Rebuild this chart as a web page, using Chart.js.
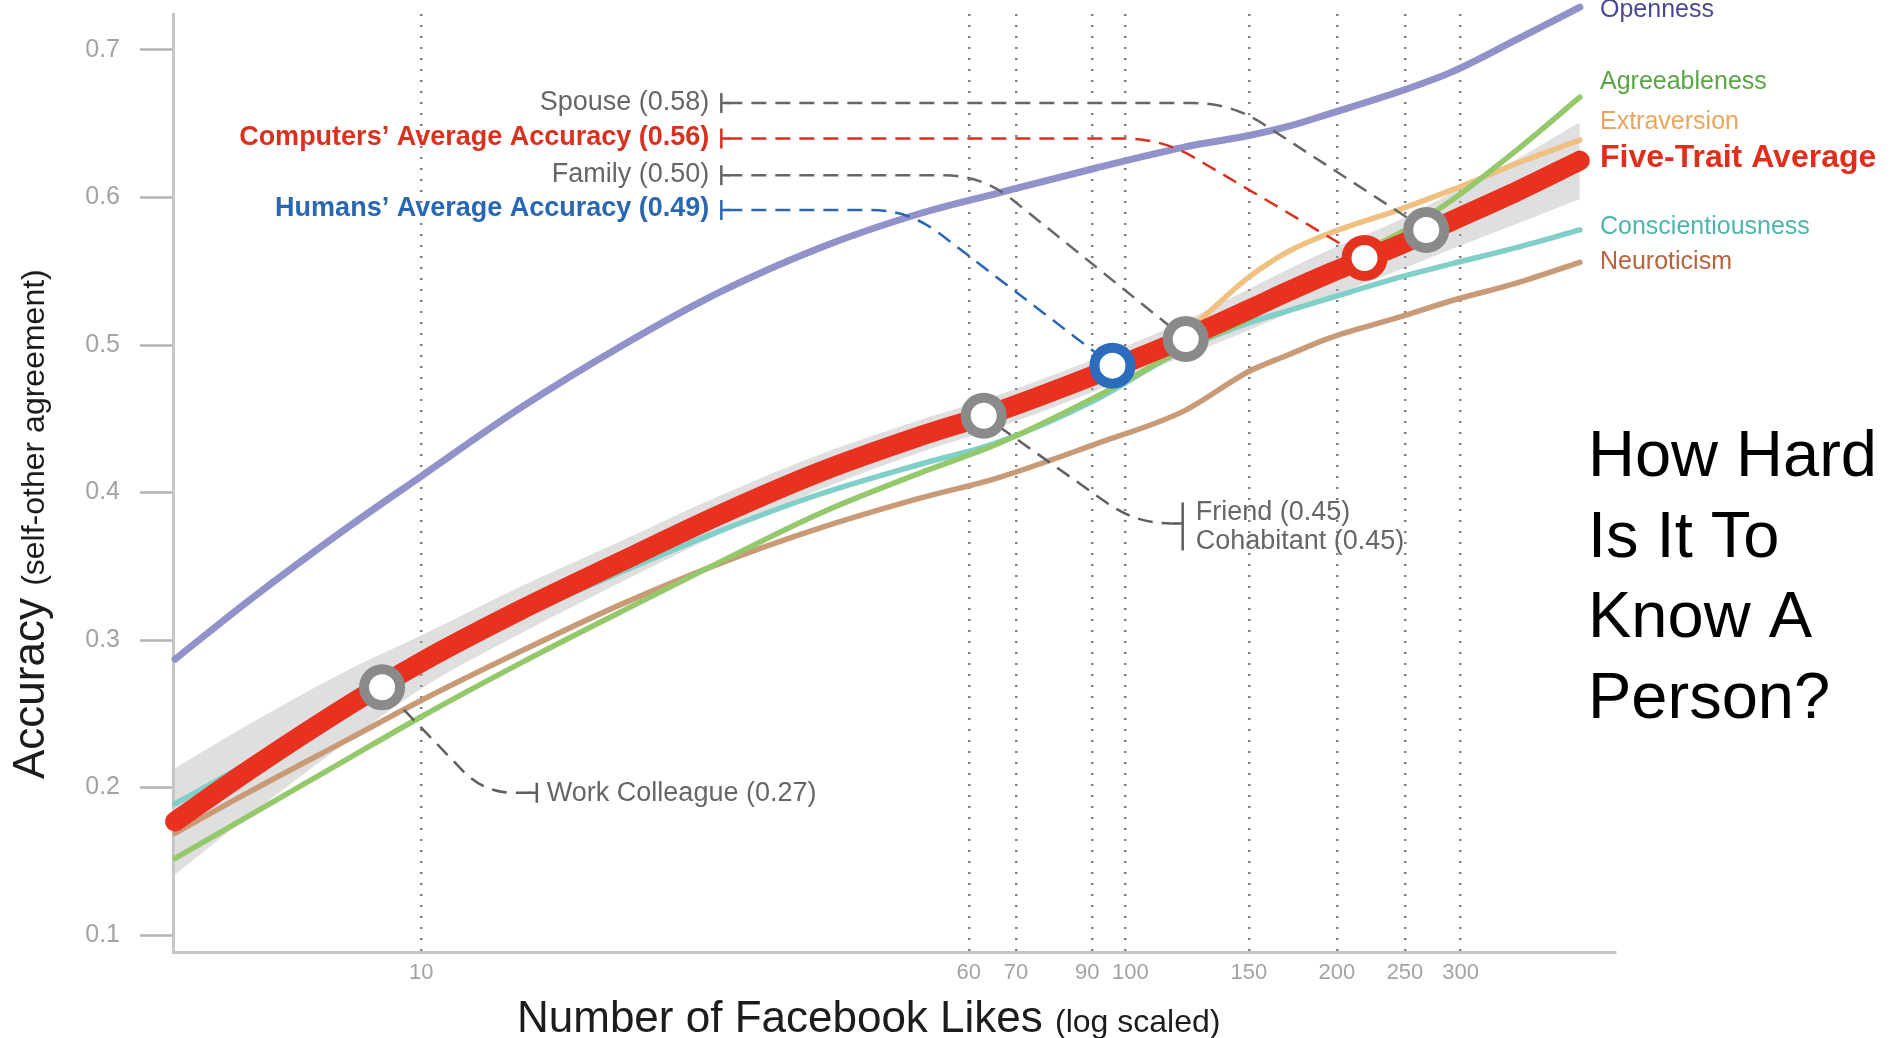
<!DOCTYPE html>
<html>
<head>
<meta charset="utf-8">
<title>How Hard Is It To Know A Person?</title>
<script src="https://cdn.jsdelivr.net/npm/chart.js@4.4.1/dist/chart.umd.min.js"></script>
<style>
  html, body { margin: 0; padding: 0; background: #fff; }
  #wrap { position: relative; width: 1893px; height: 1038px; }
</style>
</head>
<body>
<div id="wrap"><canvas id="chart"></canvas></div>
<script>
// number of Facebook likes (x, log scaled)
const likes = [4.47, 5.7, 7.9, 10, 13.8, 19.2, 26.6, 36.9, 51, 66, 91, 121, 150, 170, 196, 246, 291, 360, 443];

// accuracy per trait
const openness          = [0.287, 0.327, 0.377, 0.411, 0.457, 0.499, 0.536, 0.566, 0.589, 0.603, 0.620, 0.634, 0.642, 0.648, 0.657, 0.672, 0.685, 0.707, 0.729];
const agreeableness     = [0.152, 0.181, 0.220, 0.248, 0.284, 0.319, 0.353, 0.386, 0.413, 0.433, 0.465, 0.497, 0.518, 0.535, 0.553, 0.576, 0.598, 0.632, 0.668];
const extraversion      = [0.175, 0.208, 0.251, 0.281, 0.315, 0.348, 0.381, 0.410, 0.434, 0.450, 0.478, 0.508, 0.546, 0.563, 0.576, 0.592, 0.605, 0.623, 0.639];
const conscientiousness = [0.189, 0.217, 0.256, 0.284, 0.316, 0.346, 0.374, 0.399, 0.419, 0.434, 0.463, 0.497, 0.515, 0.523, 0.532, 0.546, 0.555, 0.566, 0.578];
const neuroticism       = [0.169, 0.197, 0.233, 0.259, 0.292, 0.324, 0.352, 0.376, 0.396, 0.410, 0.433, 0.455, 0.482, 0.493, 0.505, 0.519, 0.530, 0.542, 0.556];
const fiveTrait         = [0.177, 0.212, 0.256, 0.285, 0.320, 0.353, 0.385, 0.414, 0.438, 0.455, 0.480, 0.504, 0.524, 0.536, 0.549, 0.568, 0.584, 0.604, 0.625];
const bandUpper         = [0.213, 0.243, 0.280, 0.303, 0.336, 0.367, 0.398, 0.426, 0.449, 0.466, 0.491, 0.516, 0.538, 0.551, 0.565, 0.585, 0.603, 0.626, 0.651];
const bandLower         = [0.141, 0.181, 0.232, 0.267, 0.304, 0.339, 0.372, 0.402, 0.427, 0.444, 0.469, 0.492, 0.510, 0.521, 0.533, 0.551, 0.565, 0.582, 0.599];

// human judges and the computer, marked on the five-trait line
const judgeLikes    = [8.8, 63, 96, 122, 219, 268];
const judgeAccuracy = [0.268, 0.452, 0.486, 0.504, 0.559, 0.578];
const judgeColors   = ['#8a8a8a', '#8a8a8a', '#2b6cbd', '#8a8a8a', '#e4321f', '#8a8a8a'];

// labels at top left, with dashed leaders to the judge circles
const topLabels   = ['Spouse (0.58)', 'Computers\u2019 Average Accuracy (0.56)', 'Family (0.50)', 'Humans\u2019 Average Accuracy (0.49)'];
const topLabelY   = [0.664, 0.640, 0.615, 0.5915];
const topElbow    = [141.5, 112.9, 62.7, 49.3];
const topJudge    = [5, 4, 3, 2];
const topColors   = ['#666666', '#d9301f', '#666666', '#2a67b3'];
const topBold     = [false, true, false, true];
const topBracket  = 26.7;

// trait names at the right end
const traitLabels = ['Openness', 'Agreeableness', 'Extraversion', 'Five-Trait Average', 'Conscientiousness', 'Neuroticism'];
const traitLabelY = [0.727, 0.678, 0.651, 0.627, 0.580, 0.556];
const traitLabelColors = ['#4a4a8e', '#5aa545', '#eaa65c', '#e02e1c', '#4fb4ab', '#b8633e'];

const xTicks = [10, 60, 70, 90, 100, 150, 200, 250, 300];
const yTicks = [0.1, 0.2, 0.3, 0.4, 0.5, 0.6, 0.7];
const titleLines = ['How Hard', 'Is It To', 'Know A', 'Person?'];

const FONT = '"Liberation Sans", Arial, Helvetica, sans-serif';

function pts(ys) {
    return likes.map((x, i) => ({ x: x, y: ys[i] }));
}

function trait(label, ys, color, width, order) {
    return {
        label: label,
        data: pts(ys),
        borderColor: color,
        borderWidth: width,
        borderCapStyle: 'round',
        pointRadius: 0,
        cubicInterpolationMode: 'monotone',
        fill: false,
        clip: false,
        order: order
    };
}

// dashed elbow line: bracket -> elbow -> circle
function leader(ctx, b, corner, end, r) {
    const dx = end.x - corner.x, dy = end.y - corner.y;
    const len = Math.hypot(dx, dy);
    const hx = Math.sign(corner.x - b.x);
    ctx.beginPath();
    ctx.moveTo(b.x, b.y);
    ctx.lineTo(corner.x - hx * r, corner.y);
    ctx.quadraticCurveTo(corner.x, corner.y, corner.x + dx / len * r, corner.y + dy / len * r);
    ctx.lineTo(end.x, end.y);
    ctx.stroke();
}

const JUDGE_INDEX = 8;

const annotate = {
    id: 'annotate',
    beforeDatasetDraw(chart, args) {
        if (args.index !== JUDGE_INDEX) return;
        const ctx = chart.ctx;
        const xs = chart.scales.x, ys = chart.scales.y;
        const judgePx = i => ({ x: xs.getPixelForValue(judgeLikes[i]), y: ys.getPixelForValue(judgeAccuracy[i]) });
        ctx.save();
        ctx.lineWidth = 2.5;

        // top labels
        topLabels.forEach((t, i) => {
            const y = ys.getPixelForValue(topLabelY[i]);
            const bx = xs.getPixelForValue(topBracket);
            ctx.strokeStyle = topColors[i];
            ctx.setLineDash([15, 9]);
            leader(ctx, { x: bx + 6, y: y }, { x: xs.getPixelForValue(topElbow[i]), y: y }, judgePx(topJudge[i]), 38);
            ctx.setLineDash([]);
            ctx.beginPath();
            ctx.moveTo(bx, y - 10); ctx.lineTo(bx, y + 10);
            ctx.moveTo(bx, y); ctx.lineTo(bx + 8, y);
            ctx.stroke();
        });

        // work colleague
        ctx.strokeStyle = '#5f5f5f';
        let y = ys.getPixelForValue(0.1964);
        let bx = xs.getPixelForValue(14.6);
        ctx.setLineDash([15, 9]);
        leader(ctx, { x: bx - 6, y: y }, { x: xs.getPixelForValue(12.29), y: y }, judgePx(0), 30);
        ctx.setLineDash([]);
        ctx.beginPath();
        ctx.moveTo(bx, y - 10); ctx.lineTo(bx, y + 10);
        ctx.moveTo(bx, y); ctx.lineTo(bx - 8, y);
        ctx.stroke();

        // friend / cohabitant
        y = ys.getPixelForValue(0.379);
        bx = xs.getPixelForValue(120.8);
        ctx.setLineDash([15, 9]);
        leader(ctx, { x: bx - 6, y: y }, { x: xs.getPixelForValue(103.7), y: y }, judgePx(1), 35);
        ctx.setLineDash([]);
        ctx.beginPath();
        ctx.moveTo(bx, y - 21); ctx.lineTo(bx, y + 27);
        ctx.moveTo(bx, y); ctx.lineTo(bx - 8, y);
        ctx.stroke();
        ctx.restore();
    },
    afterDraw(chart) {
        const ctx = chart.ctx;
        const xs = chart.scales.x, ys = chart.scales.y;
        const area = chart.chartArea;
        ctx.save();
        ctx.textBaseline = 'middle';

        // top-left labels
        ctx.textAlign = 'right';
        const bx = xs.getPixelForValue(topBracket);
        topLabels.forEach((t, i) => {
            ctx.font = (topBold[i] ? 'bold ' : '') + '27px ' + FONT;
            ctx.fillStyle = topColors[i];
            ctx.fillText(t, bx - 12, ys.getPixelForValue(topLabelY[i]) - 1);
        });

        ctx.textAlign = 'left';
        ctx.font = '27px ' + FONT;
        ctx.fillStyle = '#666666';
        ctx.fillText('Work Colleague (0.27)', xs.getPixelForValue(14.6) + 10, ys.getPixelForValue(0.1964) + 1);
        const fx = xs.getPixelForValue(120.8) + 13;
        const fy = ys.getPixelForValue(0.379);
        ctx.fillText('Friend (0.45)', fx, fy - 11);
        ctx.fillText('Cohabitant (0.45)', fx, fy + 18);

        // trait names
        traitLabels.forEach((t, i) => {
            ctx.font = (i === 3 ? 'bold 32px ' : '25px ') + FONT;
            ctx.fillStyle = traitLabelColors[i];
            ctx.fillText(t, area.right - 15, ys.getPixelForValue(traitLabelY[i]));
        });

        // title
        ctx.textBaseline = 'alphabetic';
        ctx.font = '65px ' + FONT;
        ctx.fillStyle = '#000';
        titleLines.forEach((t, i) => ctx.fillText(t, 1588, 476 + i * 80.5));

        // x axis title
        ctx.fillStyle = '#1c1c1c';
        const tx = area.left + 344, ty = area.bottom + 80;
        ctx.font = '44px ' + FONT;
        ctx.fillText('Number of Facebook Likes', tx, ty);
        const w1 = ctx.measureText('Number of Facebook Likes ').width;
        ctx.font = '32px ' + FONT;
        ctx.fillText('(log scaled)', tx + w1, ty);

        // y axis title
        ctx.translate(44, area.bottom - 173);
        ctx.rotate(-Math.PI / 2);
        ctx.font = '44px ' + FONT;
        ctx.fillText('Accuracy', 0, 0);
        const w2 = ctx.measureText('Accuracy ').width;
        ctx.font = '32px ' + FONT;
        ctx.fillText('(self-other agreement)', w2, 0);
        ctx.restore();
    }
};

const datasets = [
    {
        label: 'band upper',
        data: pts(bandUpper),
        borderWidth: 0,
        pointRadius: 0,
        cubicInterpolationMode: 'monotone',
        backgroundColor: 'rgba(170,170,170,0.38)',
        fill: '+1',
        clip: false,
        order: 20
    },
    {
        label: 'band lower',
        data: pts(bandLower),
        borderWidth: 0,
        pointRadius: 0,
        cubicInterpolationMode: 'monotone',
        fill: false,
        clip: false,
        order: 19
    },
    trait('Neuroticism', neuroticism, '#c99a76', 5.5, 10),
    trait('Conscientiousness', conscientiousness, '#80cfc9', 5.5, 9),
    trait('Extraversion', extraversion, '#efc07f', 5.5, 8),
    trait('Agreeableness', agreeableness, '#95c86b', 5.5, 7),
    trait('Openness', openness, '#9192ca', 7, 6),
    trait('Five-Trait Average', fiveTrait, '#e8321f', 20, 2),
    {
        label: 'Judges',
        data: judgeLikes.map((x, i) => ({ x: x, y: judgeAccuracy[i] })),
        showLine: false,
        pointRadius: 18,
        pointBorderWidth: 10,
        pointBackgroundColor: '#ffffff',
        pointBorderColor: judgeColors,
        clip: false,
        order: 0
    }
];

new Chart(document.getElementById('chart'), {
    type: 'line',
    data: { datasets: datasets },
    options: {
        responsive: true,
        maintainAspectRatio: false,
        devicePixelRatio: 1,
        animation: false,
        events: [],
        layout: { autoPadding: false, padding: { left: 0, right: 278, top: 14, bottom: 0 } },
        plugins: { legend: { display: false }, tooltip: { enabled: false } },
        scales: {
            x: {
                type: 'logarithmic',
                min: 4.44,
                max: 497,
                afterBuildTicks: s => { s.ticks = xTicks.map(v => ({ value: v })); },
                afterFit: s => { s.height = 86; s.paddingLeft = 0; s.paddingRight = 0; },
                ticks: {
                    autoSkip: false,
                    maxRotation: 0,
                    padding: 8,
                    color: '#a3a3a3',
                    font: { family: FONT, size: 22 },
                    // nudge the crowded 90 / 100 pair apart, as in the original
                    callback: v => v === 90 ? '90\u2002' : (v === 100 ? '\u2002100' : String(v))
                },
                grid: { drawTicks: false, drawOnChartArea: true, color: '#7f7f7f', lineWidth: 2.5 },
                border: { display: true, color: '#c6c6c6', width: 3, dash: [2, 9] }
            },
            y: {
                type: 'linear',
                min: 0.0885,
                max: 0.7244,
                afterBuildTicks: s => { s.ticks = yTicks.map(v => ({ value: v })); },
                afterFit: s => { s.width = 173; s.paddingTop = 0; s.paddingBottom = 0; },
                ticks: {
                    padding: 20,
                    color: '#a3a3a3',
                    font: { family: FONT, size: 25 },
                    callback: v => v.toFixed(1)
                },
                grid: { drawOnChartArea: false, drawTicks: true, tickLength: 33, tickColor: '#b3b3b3', tickWidth: 2.5 },
                border: { display: true, color: '#c6c6c6', width: 3 }
            }
        }
    },
    plugins: [annotate]
});
</script>
</body>
</html>
